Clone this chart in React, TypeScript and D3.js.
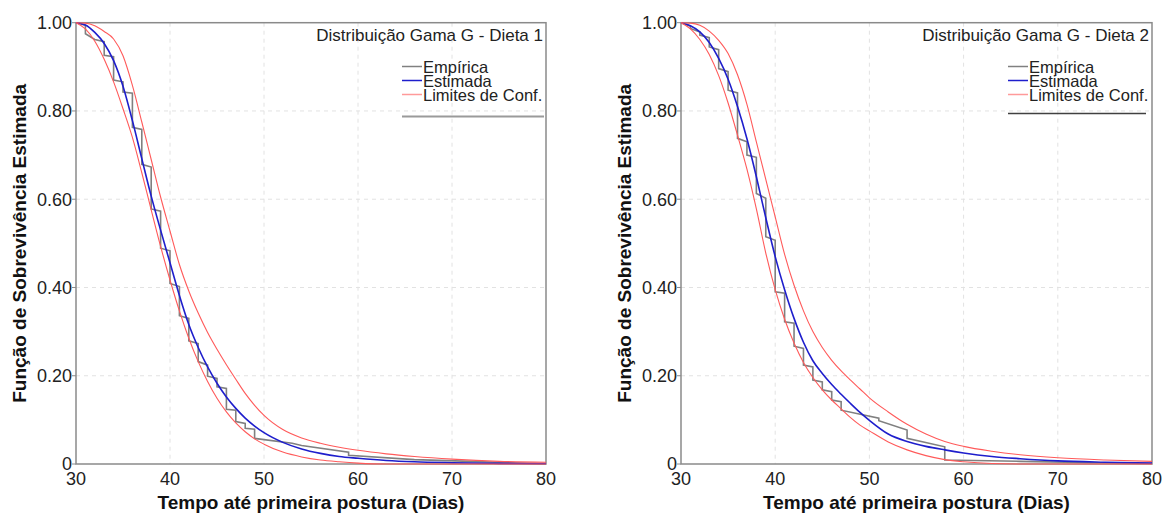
import React, { useEffect, useRef } from 'react';
import * as d3 from 'd3';

const tempos = [30, 31, 32, 33, 34, 35, 36, 37, 38, 39, 40, 41, 42, 43, 44, 45, 46, 47, 48, 49, 50, 52, 54, 56, 58, 60, 63, 66, 70, 75, 80];

// Dieta 1
const estimadaD1 = [1.0, 0.995, 0.978, 0.953, 0.914, 0.856, 0.778, 0.692, 0.607, 0.53, 0.456, 0.382, 0.316, 0.264, 0.22, 0.183, 0.152, 0.126, 0.104, 0.086, 0.071, 0.049, 0.034, 0.024, 0.017, 0.013, 0.008, 0.005, 0.003, 0.0015, 0.001];
const superiorD1 = [1.0, 0.999, 0.993, 0.98, 0.963, 0.925, 0.858, 0.775, 0.69, 0.605, 0.528, 0.452, 0.392, 0.342, 0.298, 0.26, 0.225, 0.192, 0.16, 0.133, 0.11, 0.078, 0.059, 0.047, 0.038, 0.031, 0.023, 0.017, 0.011, 0.006, 0.004];
const inferiorD1 = [1.0, 0.986, 0.958, 0.917, 0.866, 0.805, 0.74, 0.66, 0.576, 0.493, 0.417, 0.347, 0.285, 0.232, 0.187, 0.149, 0.118, 0.093, 0.073, 0.057, 0.045, 0.027, 0.016, 0.009, 0.005, 0.002, 0.0, 0.0, 0.0, 0.0, 0.0];
const empiricaD1: [number, number][] = [
  [30, 1.0], [31, 0.994], [31, 0.975], [32, 0.962], [33, 0.957], [33, 0.926], [34, 0.923], [34, 0.87],
  [35, 0.866], [35, 0.843], [36, 0.84], [36, 0.763], [37, 0.758], [37, 0.679], [38, 0.673], [38, 0.578],
  [39, 0.573], [39, 0.489], [40, 0.483], [40, 0.409], [41, 0.402], [41, 0.336], [42, 0.33], [42, 0.279],
  [43, 0.273], [43, 0.232], [44, 0.224], [44, 0.199], [45, 0.194], [45, 0.175], [46, 0.171], [46, 0.124],
  [47, 0.122], [47, 0.096], [48, 0.092], [48, 0.081], [49, 0.079], [49, 0.058], [53, 0.047], [54, 0.042],
  [59, 0.027], [59, 0.02], [66, 0.01], [72, 0.006], [77, 0.002], [80, 0.0]
];

// Dieta 2
const estimadaD2 = [1.0, 0.993, 0.979, 0.955, 0.919, 0.872, 0.81, 0.737, 0.651, 0.558, 0.47, 0.395, 0.33, 0.276, 0.234, 0.205, 0.18, 0.158, 0.137, 0.117, 0.099, 0.068, 0.051, 0.04, 0.032, 0.025, 0.017, 0.012, 0.007, 0.004, 0.002];
const superiorD2 = [1.0, 0.999, 0.994, 0.981, 0.96, 0.93, 0.882, 0.815, 0.73, 0.645, 0.56, 0.475, 0.405, 0.347, 0.3, 0.264, 0.235, 0.211, 0.19, 0.17, 0.15, 0.118, 0.09, 0.068, 0.051, 0.04, 0.029, 0.021, 0.014, 0.009, 0.006];
const inferiorD2 = [1.0, 0.986, 0.962, 0.928, 0.88, 0.818, 0.745, 0.668, 0.578, 0.478, 0.395, 0.328, 0.274, 0.23, 0.196, 0.168, 0.145, 0.125, 0.105, 0.088, 0.075, 0.05, 0.032, 0.019, 0.01, 0.005, 0.001, 0.0, 0.0, 0.0, 0.0];
const empiricaD2: [number, number][] = [
  [30, 1.0], [31, 0.992], [31, 0.987], [32, 0.979], [32, 0.972], [33, 0.966], [33, 0.945], [34, 0.939],
  [34, 0.896], [35, 0.889], [35, 0.847], [36, 0.841], [36, 0.738], [37, 0.73], [37, 0.7], [38, 0.695],
  [38, 0.613], [39, 0.602], [39, 0.515], [40, 0.507], [40, 0.39], [41, 0.387], [41, 0.322], [42, 0.319],
  [42, 0.267], [43, 0.262], [43, 0.224], [44, 0.22], [44, 0.19], [45, 0.186], [45, 0.168], [46, 0.164],
  [46, 0.145], [47, 0.141], [47, 0.122], [51, 0.104], [51, 0.098], [54, 0.077], [54, 0.058], [58, 0.039],
  [58, 0.009], [66, 0.006], [74, 0.003], [80, 0.001]
];

const yTicks = [0, 0.2, 0.4, 0.6, 0.8, 1.0];
const yTickLabels = ['0', '0.20', '0.40', '0.60', '0.80', '1.00'];
const xTicks = [30, 40, 50, 60, 70, 80];
const legendLabels = ['Empírica', 'Estimada', 'Limites de Conf.'];

const FONT = "'Liberation Sans', Arial, Helvetica, sans-serif";
const TOP = 22.7;
const BOTTOM = 464;

const paineis = [
  {
    titulo: 'Distribuição Gama G - Dieta 1',
    left: 76, right: 546,
    empirica: empiricaD1, estimada: estimadaD1, superior: superiorD1, inferior: inferiorD1,
    sepColor: '#9a9a9a', sepWidth: 2, sepY: 116.5, sepEnd: 544
  },
  {
    titulo: 'Distribuição Gama G - Dieta 2',
    left: 681, right: 1152,
    empirica: empiricaD2, estimada: estimadaD2, superior: superiorD2, inferior: inferiorD2,
    sepColor: '#404040', sepWidth: 1.5, sepY: 113.5, sepEnd: 1146
  }
];

function drawPanel(svg: d3.Selection<SVGSVGElement, unknown, null, undefined>, p: typeof paineis[0]) {
  const x = d3.scaleLinear().domain([30, 80]).range([p.left, p.right]);
  const y = d3.scaleLinear().domain([0, 1]).range([BOTTOM, TOP]);
  const g = svg.append('g');

  // grid
  g.selectAll('.gx')
    .data(xTicks.slice(1, -1))
    .enter()
    .append('line')
    .attr('x1', d => x(d)).attr('x2', d => x(d))
    .attr('y1', TOP).attr('y2', BOTTOM)
    .attr('stroke', '#e2e2e2').attr('stroke-dasharray', '4 4');
  g.selectAll('.gy')
    .data(yTicks.slice(1, -1))
    .enter()
    .append('line')
    .attr('x1', p.left).attr('x2', p.right)
    .attr('y1', d => y(d)).attr('y2', d => y(d))
    .attr('stroke', '#e2e2e2').attr('stroke-dasharray', '4 4');

  // frame
  g.append('rect')
    .attr('x', p.left).attr('y', TOP)
    .attr('width', p.right - p.left).attr('height', BOTTOM - TOP)
    .attr('fill', 'none').attr('stroke', '#8a8a8a').attr('stroke-width', 1.5);

  // y ticks
  g.selectAll('.ty')
    .data(yTicks)
    .enter()
    .append('line')
    .attr('x1', p.left - 4).attr('x2', p.left)
    .attr('y1', d => y(d)).attr('y2', d => y(d))
    .attr('stroke', '#8a8a8a');
  g.selectAll('.ly')
    .data(yTicks)
    .enter()
    .append('text')
    .attr('x', p.left - 4)
    .attr('y', d => y(d))
    .attr('dy', '0.35em')
    .attr('text-anchor', 'end')
    .attr('font-size', 18)
    .attr('font-family', FONT)
    .attr('fill', '#222')
    .text((d, i) => yTickLabels[i]);

  // x tick labels
  g.selectAll('.lx')
    .data(xTicks)
    .enter()
    .append('text')
    .attr('x', d => x(d))
    .attr('y', 485)
    .attr('text-anchor', 'middle')
    .attr('font-size', 18)
    .attr('font-family', FONT)
    .attr('fill', '#222')
    .text(d => d);

  // axis titles
  g.append('text')
    .attr('x', (p.left + p.right) / 2)
    .attr('y', 509)
    .attr('text-anchor', 'middle')
    .attr('font-size', 19)
    .attr('font-weight', 'bold')
    .attr('font-family', FONT)
    .attr('fill', '#111')
    .text('Tempo até primeira postura (Dias)');
  g.append('text')
    .attr('transform', `translate(${p.left - 50}, ${(TOP + BOTTOM) / 2}) rotate(-90)`)
    .attr('text-anchor', 'middle')
    .attr('font-size', 19)
    .attr('font-weight', 'bold')
    .attr('font-family', FONT)
    .attr('fill', '#111')
    .text('Função de Sobrevivência Estimada');

  // curves
  const smooth = d3.line<number>()
    .x((d, i) => x(tempos[i]))
    .y(d => y(d))
    .curve(d3.curveMonotoneX);
  const steps = d3.line<[number, number]>()
    .x(d => x(d[0]))
    .y(d => y(d[1]));

  g.append('path').attr('d', steps(p.empirica))
    .attr('fill', 'none').attr('stroke', '#808080').attr('stroke-width', 1.6);
  g.append('path').attr('d', smooth(p.estimada))
    .attr('fill', 'none').attr('stroke', '#1e1ecc').attr('stroke-width', 1.6);
  [p.superior, p.inferior].forEach(s => {
    g.append('path').attr('d', smooth(s))
      .attr('fill', 'none').attr('stroke', '#ff5a5a').attr('stroke-width', 1.1);
  });

  // legend
  g.append('text')
    .attr('x', p.right - 3)
    .attr('y', 40.5)
    .attr('text-anchor', 'end')
    .attr('font-size', 17)
    .attr('font-family', FONT)
    .attr('fill', '#222')
    .text(p.titulo);
  const colors = ['#808080', '#1e1ecc', '#ff9a9a'];
  legendLabels.forEach((lab, i) => {
    const by = 72.5 + i * 14;
    g.append('line')
      .attr('x1', p.right - 144).attr('x2', p.right - 124)
      .attr('y1', by - 6).attr('y2', by - 6)
      .attr('stroke', colors[i]).attr('stroke-width', 1.5);
    g.append('text')
      .attr('x', p.right - 123)
      .attr('y', by)
      .attr('font-size', 16.5)
      .attr('font-family', FONT)
      .attr('fill', '#222')
      .text(lab);
  });
  g.append('line')
    .attr('x1', p.right - 144).attr('x2', p.sepEnd)
    .attr('y1', p.sepY).attr('y2', p.sepY)
    .attr('stroke', p.sepColor).attr('stroke-width', p.sepWidth);
}

export default function App() {
  const ref = useRef<SVGSVGElement>(null);

  useEffect(() => {
    const svg = d3.select(ref.current!);
    svg.selectAll('*').remove();
    paineis.forEach(p => drawPanel(svg, p));
  }, []);

  return (
    <svg
      ref={ref}
      width={1165}
      height={515}
      style={{ position: 'absolute', left: 0, top: 0, background: '#fff' }}
    />
  );
}
